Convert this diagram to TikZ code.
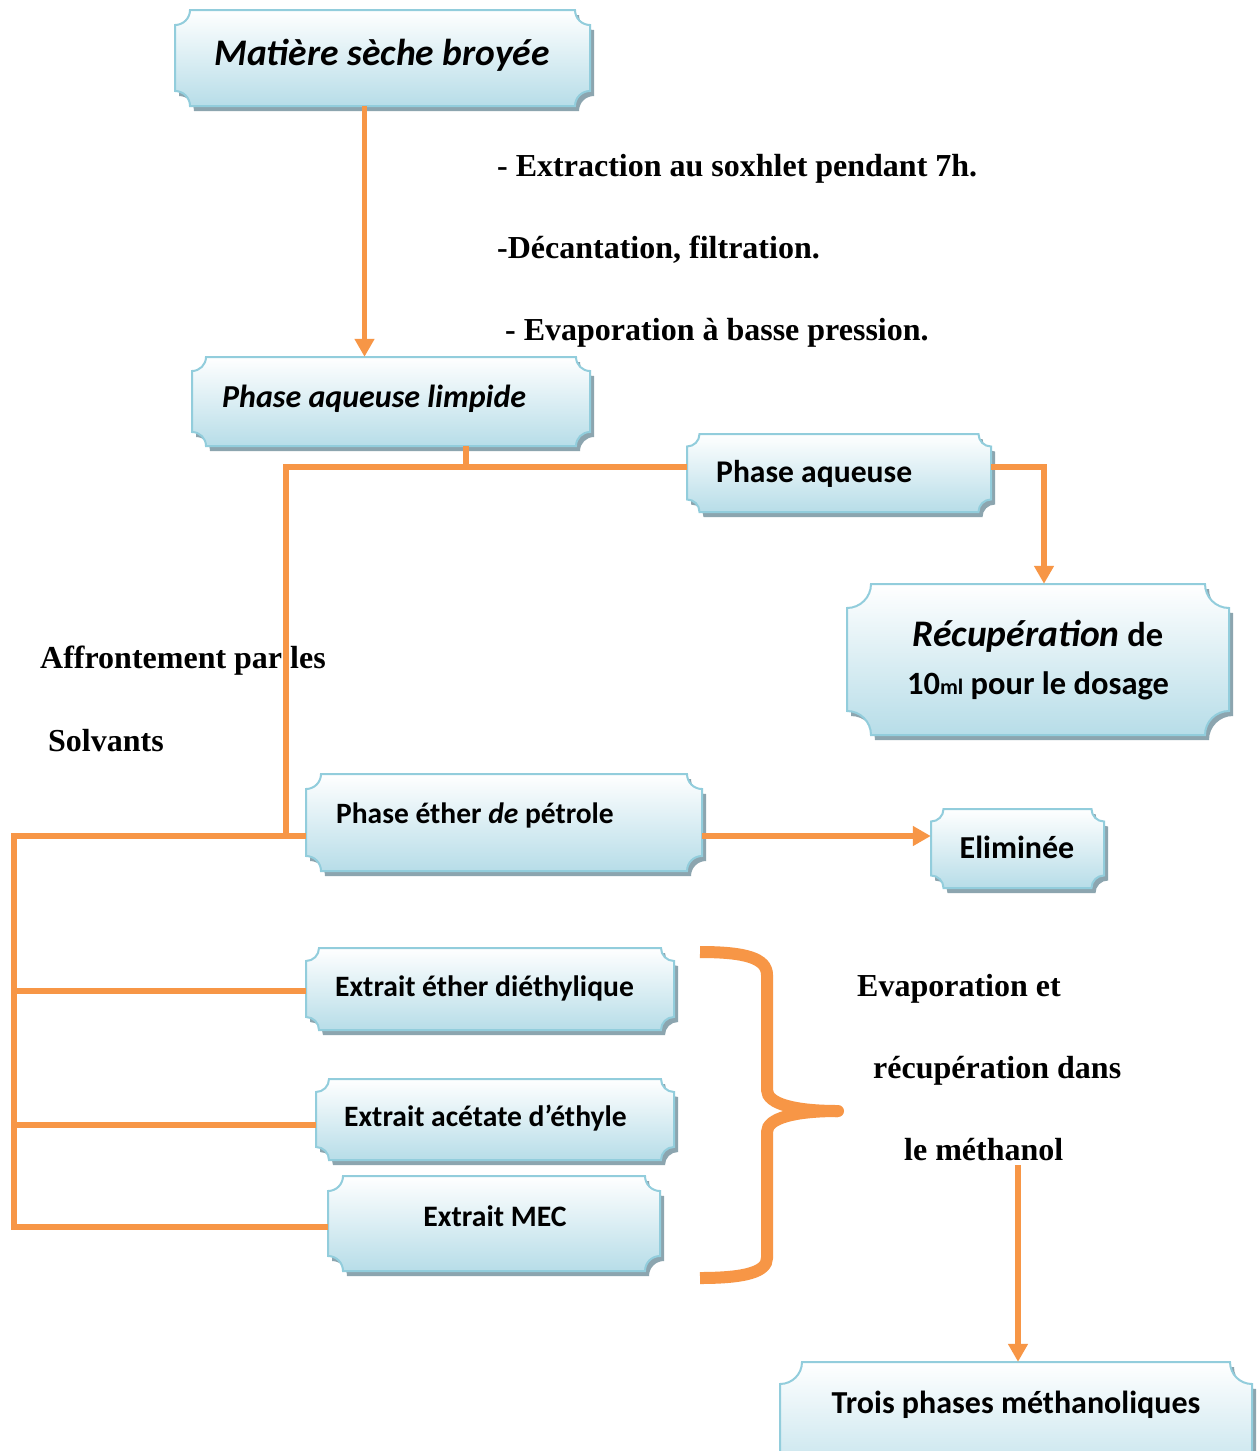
\documentclass[tikz,border=0pt]{standalone}
\usepackage{fontspec}
\setmainfont{Liberation Serif}
\newfontfamily\calb{Carlito}
\usetikzlibrary{fit,arrows.meta,calc}
\definecolor{orng}{RGB}{247,150,70}
\definecolor{bline}{RGB}{146,205,220}
\definecolor{bbot}{RGB}{183,221,232}
\definecolor{bmid}{RGB}{222,239,244}
\definecolor{shad}{RGB}{140,165,175}
\newcommand\pqpath[5]{(#1+#5,#2) -- (#3-#5,#2) .. controls (#3-#5,#2+0.552*#5) and (#3-0.552*#5,#2+#5) .. (#3,#2+#5) -- (#3,#4-#5) .. controls (#3-0.552*#5,#4-#5) and (#3-#5,#4-0.552*#5) .. (#3-#5,#4) -- (#1+#5,#4) .. controls (#1+#5,#4-0.552*#5) and (#1+0.552*#5,#4-#5) .. (#1,#4-#5) -- (#1,#2+#5) .. controls (#1+0.552*#5,#2+#5) and (#1+#5,#2+0.552*#5) .. (#1+#5,#2) -- cycle}
\newcommand\plaque[6]{%
  \begin{scope}[shift={(4,5)}]
    \fill[shad] \pqpath{#2}{#3}{#4}{#5}{#6};
  \end{scope}
  \shade[top color=white, middle color=bmid, bottom color=bbot] \pqpath{#2}{#3}{#4}{#5}{#6};
  \draw[bline, line width=2pt] \pqpath{#2}{#3}{#4}{#5}{#6};
  \path (#2,#3) coordinate (#1nw) (#4,#5) coordinate (#1se);
  \node[fit=(#1nw)(#1se), inner sep=0pt] (#1) {};
}
\newcommand\bsz[1]{\calb\fontsize{#1}{#1}\selectfont\bfseries}
\tikzset{
  con/.style={orng, line width=5.5pt},
  arr/.style={orng, line width=5.5pt, -{Triangle[length=18pt,width=19pt]}},
  ttxt/.style={inner sep=0pt, font=\fontsize{32}{38}\selectfont\bfseries},
  btxt/.style={inner sep=0pt, font=\bsz{31}},
}
\begin{document}
\begin{tikzpicture}[x=1pt,y=-1pt]
\useasboundingbox[fill=white] (0,0) rectangle (1258,1451);

% boxes
\plaque{mat}{175}{10}{590}{106}{15}
\plaque{pal}{192}{357}{590}{446}{14}
\plaque{pa}{687}{434}{991}{512}{12.5}
\plaque{rec}{847}{584}{1229}{735}{24}
\plaque{pe}{306}{774}{702}{871}{15}
\plaque{el}{931}{809}{1104}{888}{12.5}
\plaque{ed}{306}{948}{674}{1030}{13}
\plaque{aa}{316}{1079}{674}{1160}{13}
\plaque{mec}{328}{1176}{660}{1271}{15}
\plaque{tp}{780}{1362}{1252}{1500}{22}

% box texts
\node[btxt, anchor=base, font=\bsz{37.5}\itshape] (tmat) at (382,65) {Matière sèche broyée};
\node[btxt, anchor=base west, font=\bsz{32}\itshape] (tpal) at (222,407) {Phase aqueuse limpide};
\node[btxt, anchor=base west, font=\bsz{31.6}] (tpa) at (716,482) {Phase aqueuse};
\node[btxt, anchor=base, font=\bsz{34.5}] (trec1) at (1038,646) {{\fontsize{37.5}{40}\selectfont\itshape Récupération} de};
\node[btxt, anchor=base, font=\bsz{32.5}] (trec2) at (1038,694) {10{\fontsize{22}{26}\selectfont ml} pour le dosage};
\node[btxt, anchor=base west, font=\bsz{29.5}] (tpe) at (336,823) {Phase éther \textit{de} pétrole};
\node[btxt, anchor=base, font=\bsz{32}] (tel) at (1017,858) {Eliminée};
\node[btxt, anchor=base west, font=\bsz{29.6}] (ted) at (335,996) {Extrait éther diéthylique};
\node[btxt, anchor=base west, font=\bsz{29.6}] (taa) at (344,1126) {Extrait acétate d’éthyle};
\node[btxt, anchor=base, font=\bsz{29.7}] (tmec) at (495,1226) {Extrait MEC};
\node[btxt, anchor=base, font=\bsz{32}] (ttp) at (1016,1413) {Trois phases méthanoliques};

% free texts
\node[ttxt, anchor=base west] (s1) at (497,176) {- Extraction au soxhlet pendant 7h.};
\node[ttxt, anchor=base west] (s2) at (497,258) {-Décantation, filtration.};
\node[ttxt, anchor=base west] (s3) at (505,340) {- Evaporation à basse pression.};
\node[ttxt, anchor=base west] (a1) at (40,668) {Affrontement par les};
\node[ttxt, anchor=base west] (a2) at (48,751) {Solvants};
\node[ttxt, anchor=base west] (e1) at (857,996) {Evaporation et};
\node[ttxt, anchor=base west] (e2) at (873,1078) {récupération dans};
\node[ttxt, anchor=base west] (e3) at (904,1160) {le méthanol};

% junctions
\coordinate (c1) at (286,467);
\coordinate (j1) at (466,467);
\coordinate (c2) at (286,836);
\coordinate (c3) at (14,836);
\coordinate (c4) at (1044,467);
\coordinate (d1) at (14,991);
\coordinate (d2) at (14,1125);
\coordinate (d3) at (14,1227);
\coordinate (c5) at (1018,1165);

% connectors
\draw[arr] ([xshift=-18pt]mat.south) -- ([xshift=-18pt]mat.south |- pal.north);
\draw[con] (pal.south -| j1) -- (j1);
\draw[con] (pa.west |- c1) -- (c1) -- (c2);
\draw[arr] (pa.east |- c4) -- (c4) -- (c4 |- rec.north);
\draw[con] (pe.west |- c2) -- (c3) -- (d3) -- (mec.west |- d3);
\draw[con] (d1) -- (ed.west |- d1);
\draw[con] (d2) -- (aa.west |- d2);
\draw[arr] (pe.east |- c2) -- (el.west |- c2);
\draw[arr] (c5) -- (c5 |- tp.north);

% brace
\draw[orng, line width=12pt] (700,952) .. controls (745,952) and (767,958) .. (767,975) -- (767,1090) .. controls (767,1104) and (795,1111) .. (838,1111);
\draw[orng, line width=12pt] (838,1111) .. controls (795,1111) and (767,1118) .. (767,1132) -- (767,1258) .. controls (767,1272) and (745,1278) .. (700,1278);
\fill[orng] (838,1111) circle (6);
\end{tikzpicture}
\end{document}
